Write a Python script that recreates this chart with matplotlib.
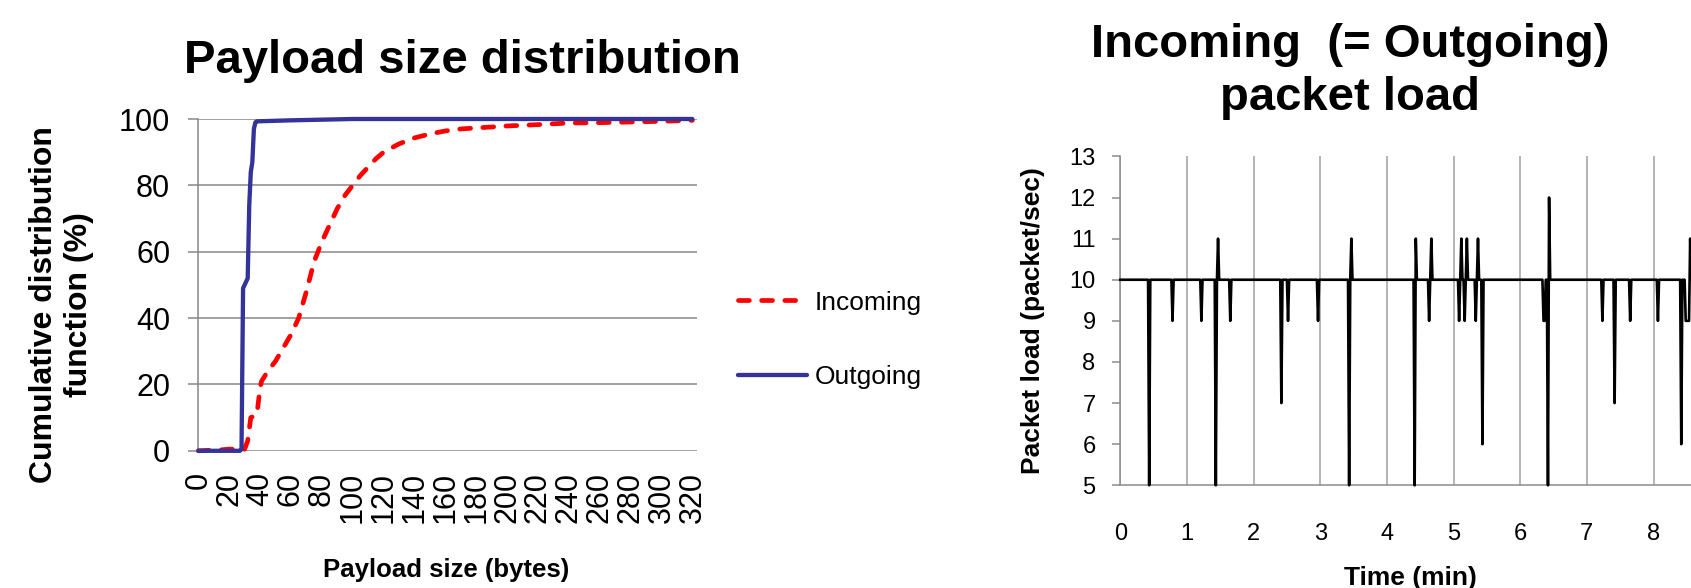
import numpy as np
import matplotlib
matplotlib.use("Agg")
import matplotlib.pyplot as plt

plt.rcParams['font.family'] = ['Liberation Sans', 'DejaVu Sans']

# ---------------- data: payload size CDF ----------------
out_bytes = [0, 27, 28, 29, 30, 31, 32, 33, 34, 35, 36, 37, 38, 60, 100, 320]
out_cdf   = [0, 0, 0.5, 49, 50, 51, 52, 74, 84, 87, 97, 99, 99.3, 99.6, 100, 100]

in_bytes = [0, 15, 20, 25, 29, 30, 32, 34, 38, 40, 41, 45, 50, 55, 60, 65, 70, 75,
            80, 85, 90, 95, 100, 105, 110, 115, 120, 130, 140, 150, 160, 170, 180,
            200, 220, 240, 260, 280, 300, 320]
in_cdf   = [0, 0.3, 0.5, 0.5, 0.3, 0.5, 3, 10, 11, 19, 21, 24, 27, 31, 35, 40, 48, 57,
            63, 68, 73, 77, 80, 83, 85.5, 88, 90, 92.5, 94.3, 95.5, 96.4, 97, 97.3,
            97.9, 98.3, 98.8, 98.9, 99.1, 99.3, 99.6]

payload_ticks = list(range(0, 321, 20))
cdf_ticks = [0, 20, 40, 60, 80, 100]

# ---------------- data: packet load (one sample per second) ----------------
duration_s = 516
baseline_load = 10
spike_sec  = [26, 47, 73, 86, 88, 99, 145, 151, 178, 206, 208, 265, 266, 278, 280,
              305, 307, 310, 312, 320, 322, 326, 381, 382, 385, 386, 434, 445, 459,
              484, 505, 509, 510, 511, 512, 513]
spike_load = [5, 9, 9, 5, 11, 9, 7, 9, 9, 5, 11, 5, 11, 9, 11,
              9, 11, 9, 11, 9, 11, 6, 9, 9, 5, 12, 9, 7, 9,
              9, 6, 9, 9, 9, 9, 11]
time_ticks = list(range(0, 9))
load_ticks = list(range(5, 14))

time_s = np.arange(duration_s)
load = np.full(duration_s, baseline_load, dtype=float)
load[spike_sec] = spike_load
time_min = time_s / 60.0

# ---------------- figure ----------------
W, H = 1691, 588
fig = plt.figure(figsize=(W / 100, H / 100), dpi=100)

def fx(px):
    return px / W

def fy(py):
    return 1 - py / H

# ---- left chart ----
axL = fig.add_axes([fx(198.3), fy(450.8), fx(697 - 198.3), (450.8 - 119) / H])
grid_c = '#878787'
axL.set_xlim(0, 323)
axL.set_ylim(0, 100)
axL.set_yticks(cdf_ticks)
axL.set_xticks(payload_ticks)
axL.set_xticklabels([str(v) for v in payload_ticks], rotation=90, fontsize=22)
axL.tick_params(axis='x', length=0, pad=15)
axL.tick_params(axis='y', length=7.2, width=1.1, color=grid_c, pad=13, labelsize=22)
axL.yaxis.grid(True, color=grid_c, linewidth=1.1)
axL.set_axisbelow(True)
for s in ['top', 'right', 'bottom']:
    axL.spines[s].set_visible(False)
axL.spines['left'].set_color(grid_c)
axL.spines['left'].set_linewidth(1.1)

l_in, = axL.plot(in_bytes, in_cdf, color='#FF0000', linewidth=3.4,
                 dashes=(2.3, 2.6), dash_capstyle='round', clip_on=False,
                 label='Incoming', zorder=3)
l_out, = axL.plot(out_bytes, out_cdf, color='#333399', linewidth=3.1,
                  solid_capstyle='round', clip_on=False, label='Outgoing', zorder=4)

fig.legend(handles=[l_in, l_out], loc='center left',
           bbox_to_anchor=(fx(738), fy(340)), frameon=False, fontsize=19,
           handlelength=2.6, handletextpad=0.3, labelspacing=1.92,
           borderpad=0, borderaxespad=0)

fig.text(fx(462), fy(73.3), 'Payload size distribution', ha='center',
         va='baseline', fontsize=34, fontweight='bold')
fig.text(fx(44), fy(305), 'Cumulative distribution', rotation=90, ha='center',
         va='center', fontsize=23, fontweight='bold')
fig.text(fx(79), fy(305), 'function (%)', rotation=90, ha='center',
         va='center', fontsize=23, fontweight='bold')
fig.text(fx(446), fy(576.7), 'Payload size (bytes)', ha='center', va='baseline',
         fontsize=18.5, fontweight='bold')

# ---- right chart ----
px_per_min = 66.65
axR = fig.add_axes([fx(1120.3), fy(485.3), fx(10 * px_per_min), (485.3 - 156.4) / H])
gridR = '#a0a0a0'
axR.set_xlim(0, 10)
axR.set_ylim(5, 13)
axR.set_xticks(time_ticks)
axR.set_yticks(load_ticks)
axR.tick_params(axis='x', length=0, pad=27, labelsize=17)
axR.tick_params(axis='y', length=5.8, width=1.1, color='#8c8c8c', pad=12, labelsize=17)
axR.xaxis.grid(True, color=gridR, linewidth=1.1)
axR.set_axisbelow(True)
for s in ['top', 'right']:
    axR.spines[s].set_visible(False)
for s in ['left', 'bottom']:
    axR.spines[s].set_color('#8c8c8c')
    axR.spines[s].set_linewidth(1.1)
axR.plot(time_min, load, color='black', linewidth=1.9, clip_on=False, zorder=3)

fig.text(fx(1350), fy(56.7), 'Incoming  (= Outgoing)', ha='center', va='baseline',
         fontsize=34, fontweight='bold')
fig.text(fx(1350), fy(110), 'packet load', ha='center', va='baseline',
         fontsize=34, fontweight='bold')
fig.text(fx(1033), fy(321), 'Packet load (packet/sec)', rotation=90, ha='center',
         va='center', fontsize=19, fontweight='bold')
fig.text(fx(1410), fy(585), 'Time (min)', ha='center', va='baseline',
         fontsize=19, fontweight='bold')

fig.savefig('out.png', dpi=100)
